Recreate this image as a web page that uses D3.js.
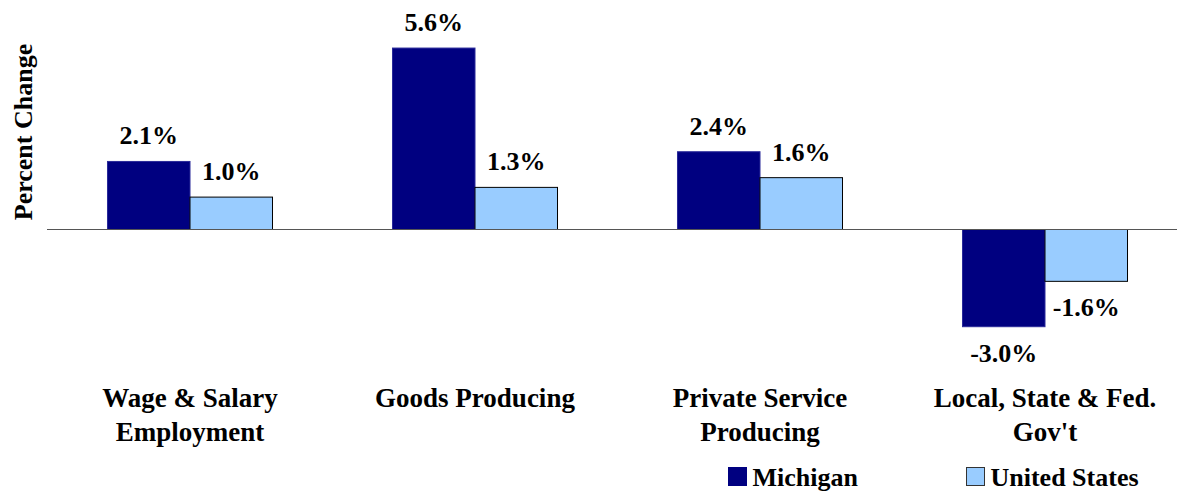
<!DOCTYPE html>
<html>
<head>
<meta charset="utf-8">
<script src="https://cdn.jsdelivr.net/npm/d3@7"></script>
<style>
  body { margin: 0; background: white; }
  text { font-family: "Liberation Serif", "Times New Roman", serif; font-weight: bold; fill: #000; }
</style>
</head>
<body>
<div class="chart"></div>
<script>
// data
var categories = [["Wage & Salary", "Employment"], ["Goods Producing"], ["Private Service", "Producing"], ["Local, State & Fed.", "Gov't"]];
var michigan = [2.1, 5.6, 2.4, -3.0];
var unitedStates = [1.0, 1.3, 1.6, -1.6];
var seriesNames = ["Michigan", "United States"];

var width = 1177, height = 491;
var colors = {"Michigan": "#000080", "United States": "#99ccff"};
var strokes = {"Michigan": "#2a2a99", "United States": "#000"};

var svg = d3.select(".chart").append("svg")
  .attr("width", width)
  .attr("height", height);

var catKeys = categories.map(d => d.join(" "));

var x = d3.scaleBand()
  .domain(catKeys)
  .range([47.5, 1187.5])
  .paddingInner(0.421)
  .paddingOuter(0.2105);

var xs = d3.scaleBand()
  .domain(seriesNames)
  .range([0, x.bandwidth()]);

var y = d3.scaleLinear()
  .domain([-7, 7])
  .range([229.5 + 7 * 32.4, 229.5 - 7 * 32.4]);

var fmt = v => d3.format(".1f")(v).replace("\u2212", "-") + "%";

var rows = catKeys.map((k, i) => ({key: k, lines: categories[i], values: [
  {name: "Michigan", value: michigan[i]},
  {name: "United States", value: unitedStates[i]}
]}));

var groups = svg.append("g")
  .selectAll("g")
  .data(rows)
  .enter()
  .append("g")
  .attr("transform", d => "translate(" + x(d.key) + ",0)");

groups.selectAll("rect")
  .data(d => d.values)
  .enter()
  .append("rect")
  .attr("x", d => xs(d.name))
  .attr("width", xs.bandwidth())
  .attr("y", d => y(Math.max(0, d.value)))
  .attr("height", d => Math.abs(y(d.value) - y(0)))
  .attr("fill", d => colors[d.name])
  .attr("stroke", d => strokes[d.name])
  .attr("stroke-width", 1);

// value labels
groups.selectAll("text.val")
  .data(d => d.values)
  .enter()
  .append("text")
  .attr("class", "val")
  .attr("x", d => xs(d.name) + xs.bandwidth() / 2)
  .attr("y", d => d.value >= 0 ? y(d.value) - 17 : y(d.value) + 35)
  .attr("text-anchor", "middle")
  .style("font-size", "26px")
  .text(d => fmt(d.value));

// zero line
svg.append("line")
  .attr("x1", 47)
  .attr("x2", width)
  .attr("y1", y(0))
  .attr("y2", y(0))
  .attr("stroke", "#555")
  .attr("stroke-width", 1.2);

// category labels
var catLabels = svg.append("g")
  .selectAll("text")
  .data(rows)
  .enter()
  .append("text")
  .attr("text-anchor", "middle")
  .style("font-size", "27px");

catLabels.selectAll("tspan")
  .data(d => d.lines.map(l => ({line: l, cx: x(d.key) + x.bandwidth() / 2})))
  .enter()
  .append("tspan")
  .attr("x", d => d.cx)
  .attr("y", (d, i) => 407 + i * 34)
  .text(d => d.line);

// y axis title
svg.append("text")
  .attr("transform", "translate(32,132) rotate(-90)")
  .attr("text-anchor", "middle")
  .style("font-size", "26px")
  .text("Percent Change");

// legend
var legend = svg.append("g")
  .selectAll("g")
  .data(seriesNames)
  .enter()
  .append("g")
  .attr("transform", (d, i) => "translate(" + (728.5 + i * 238) + ",467.5)");

legend.append("rect")
  .attr("width", 18)
  .attr("height", 18)
  .attr("fill", d => colors[d])
  .attr("stroke", d => d === "Michigan" ? "#000080" : "#333")
  .attr("stroke-width", 1);

legend.append("text")
  .attr("x", 24)
  .attr("y", 18)
  .style("font-size", "26px")
  .text(d => d);
</script>
</body>
</html>
